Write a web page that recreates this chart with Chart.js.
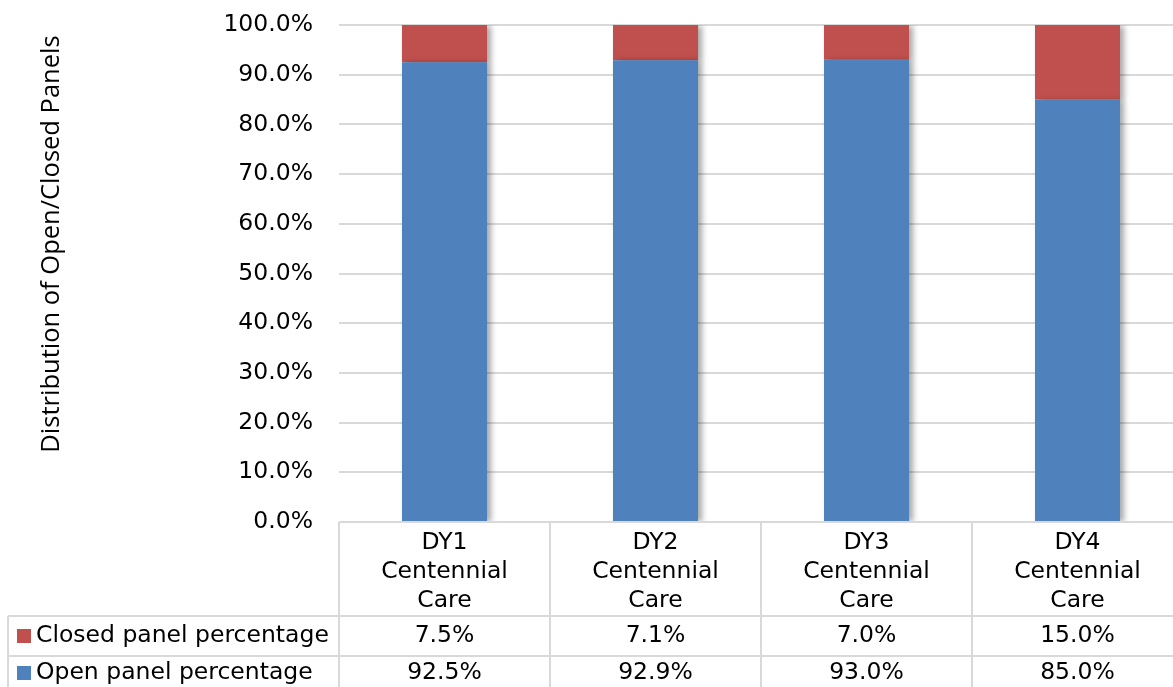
<!DOCTYPE html>
<html>
<head>
<meta charset="utf-8">
<script src="https://cdn.jsdelivr.net/npm/chart.js@4.4.0/dist/chart.umd.min.js"></script>
<style>
  html, body { margin: 0; padding: 0; background: #fff; overflow: hidden; }
  #wrap { width: 1173px; height: 687px; overflow: hidden; }
  #wrap canvas { display: block; }
</style>
</head>
<body>
<div id="wrap"><canvas id="chartPanels" width="1183" height="687"></canvas></div>
<script>
const categories = [["DY1", "Centennial", "Care"], ["DY2", "Centennial", "Care"], ["DY3", "Centennial", "Care"], ["DY4", "Centennial", "Care"]];
const openValues = [92.5, 92.9, 93.0, 85.0];
const closedValues = [7.5, 7.1, 7.0, 15.0];
const seriesNames = ["Open panel percentage", "Closed panel percentage"];
const yTicks = [0, 10, 20, 30, 40, 50, 60, 70, 80, 90, 100];
const yTitle = "Distribution of Open/Closed Panels";

const blue = "#4F81BD";
const red = "#C0504D";
const gridColor = "#d9d9d9";
const tableFont = "23.5px 'DejaVu Sans'";

// shadow behind the bars
const barShadow = {
  id: "barShadow",
  beforeDatasetsDraw(chart) {
    const ctx = chart.ctx;
    ctx.save();
    ctx.shadowColor = "rgba(0,0,0,0.35)";
    ctx.shadowBlur = 6;
    ctx.shadowOffsetX = 4;
    ctx.shadowOffsetY = 1;
  },
  afterDatasetsDraw(chart) {
    chart.ctx.restore();
  }
};

// data table under the plot + rotated axis title
const dataTable = {
  id: "dataTable",
  afterDraw(chart) {
    const ctx = chart.ctx;
    const x = chart.scales.x;
    const y = chart.scales.y;
    const area = chart.chartArea;
    const top = y.getPixelForValue(0);
    const row1 = top + 94;
    const row2 = row1 + 40;
    const bottom = chart.height;
    const left = 8;
    const colW = (area.right - area.left) / categories.length;

    ctx.save();
    ctx.strokeStyle = gridColor;
    ctx.lineWidth = 2;
    ctx.beginPath();
    // horizontal lines
    ctx.moveTo(area.left, top); ctx.lineTo(area.right, top);
    ctx.moveTo(left, row1); ctx.lineTo(area.right, row1);
    ctx.moveTo(left, row2); ctx.lineTo(area.right, row2);
    // vertical lines
    ctx.moveTo(left, row1); ctx.lineTo(left, bottom);
    for (let i = 0; i <= categories.length; i++) {
      const cx = area.left + i * colW;
      ctx.moveTo(cx, top); ctx.lineTo(cx, bottom);
    }
    ctx.stroke();

    ctx.fillStyle = "#000";
    ctx.font = tableFont;
    ctx.textAlign = "center";
    ctx.textBaseline = "middle";
    categories.forEach((lines, i) => {
      const cx = x.getPixelForValue(i);
      lines.forEach((t, j) => ctx.fillText(t, cx, top + 21 + j * 29));
      ctx.fillText(closedValues[i].toFixed(1) + "%", cx, row1 + 20);
      ctx.fillText(openValues[i].toFixed(1) + "%", cx, row2 + 17);
    });

    // legend keys
    ctx.textAlign = "left";
    ctx.fillStyle = red;
    ctx.fillRect(17, row1 + 13, 14, 14);
    ctx.fillStyle = blue;
    ctx.fillRect(17, row2 + 10, 14, 14);
    ctx.fillStyle = "#000";
    ctx.fillText(seriesNames[1], 36, row1 + 20);
    ctx.fillText(seriesNames[0], 36, row2 + 17);

    // y axis title
    ctx.translate(52, 244);
    ctx.rotate(-Math.PI / 2);
    ctx.textAlign = "center";
    ctx.font = "25.5px 'Open Sans'";
    ctx.fillText(yTitle, 0, 0);
    ctx.restore();
  }
};

const ctx = document.getElementById("chartPanels").getContext("2d");
new Chart(ctx, {
  type: "bar",
  data: {
    labels: categories.map(c => c.join(" ")),
    datasets: [
      { label: seriesNames[0], data: openValues, backgroundColor: blue, barPercentage: 0.403, categoryPercentage: 1 },
      { label: seriesNames[1], data: closedValues, backgroundColor: red, barPercentage: 0.403, categoryPercentage: 1 }
    ]
  },
  options: {
    responsive: false,
    animation: false,
    layout: { padding: { top: 25, bottom: 157, left: 0, right: 0 } },
    plugins: { legend: { display: false }, tooltip: { enabled: false } },
    scales: {
      x: {
        stacked: true,
        ticks: { display: false },
        grid: { display: false },
        border: { display: false }
      },
      y: {
        stacked: true,
        min: 0,
        max: 100,
        afterFit(scale) { scale.width = 339; },
        afterBuildTicks(scale) { scale.ticks = yTicks.map(v => ({ value: v })); },
        ticks: {
          padding: 0,
          color: "#000",
          font: { size: 23.5, family: "DejaVu Sans" },
          callback: v => v.toFixed(1) + "%"
        },
        grid: { color: gridColor, lineWidth: 2, drawTicks: true, tickLength: 26, tickColor: "rgba(0,0,0,0)" },
        border: { display: false }
      }
    }
  },
  plugins: [barShadow, dataTable]
});
</script>
</body>
</html>
